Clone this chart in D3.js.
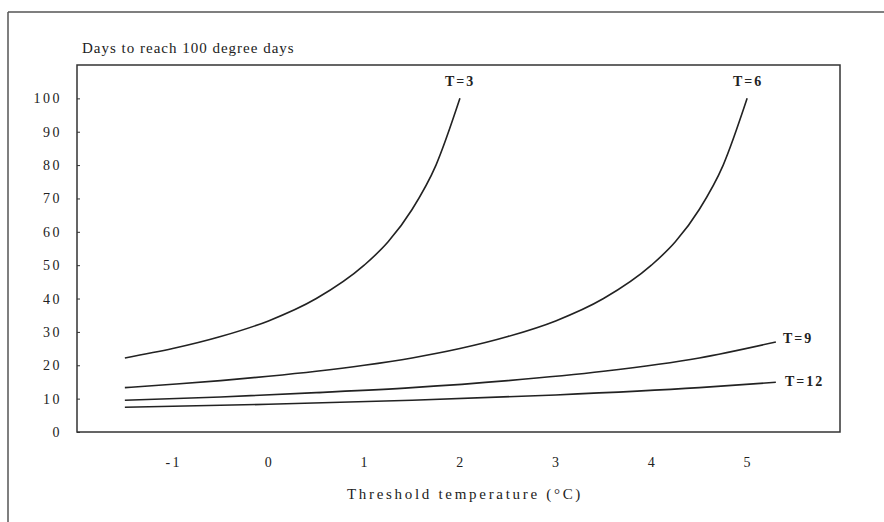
<!DOCTYPE html>
<html lang="en">
<head>
  <meta charset="UTF-8" />
  <title>Days to reach 100 degree days</title>
  <script src="https://d3js.org/d3.v7.min.js"></script>
  <style>
    body { margin: 0; padding: 0; background: #fff; }
    svg { display: block; font-family: "Liberation Serif", "DejaVu Serif", serif; }
    .frame { stroke: #555; stroke-width: 1.5; fill: none; }
    .plot-box { stroke: #333; stroke-width: 1.5; fill: none; }
    .curve { fill: none; stroke: #222; stroke-width: 1.6; }
    .tick-label { font-size: 14px; fill: #222; letter-spacing: 2.5px; }
    .curve-label { font-size: 14px; fill: #222; font-weight: bold; letter-spacing: 2px; }
  </style>
</head>
<body>
  <svg width="884" height="522"></svg>
  <script>
    // threshold temperatures (°C) and days
    const xT3 = [-1.5, -1, -0.5, 0, 0.5, 1, 1.25, 1.5, 1.75, 2];
    const yT3 = [22.2, 25, 28.6, 33.3, 40, 50, 57, 66.7, 80, 100];

    const xT6 = [-1.5, -1, -0.5, 0, 0.5, 1, 1.5, 2, 2.5, 3, 3.5, 4, 4.25, 4.5, 4.75, 5];
    const yT6 = [13.3, 14.3, 15.4, 16.7, 18.2, 20, 22.2, 25, 28.6, 33.3, 40, 50, 57, 66.7, 80, 100];

    const xT9 = [-1.5, -0.5, 0.5, 1.5, 2.5, 3.5, 4.5, 5.3];
    const yT9 = [9.5, 10.5, 11.8, 13.3, 15.4, 18.2, 22.2, 27];

    const xT12 = [-1.5, 0, 1.5, 3, 4.5, 5.3];
    const yT12 = [7.4, 8.3, 9.5, 11.1, 13.3, 14.9];

    const seriesNames = ["T=3", "T=6", "T=9", "T=12"];
    const yTicks = [0, 10, 20, 30, 40, 50, 60, 70, 80, 90, 100];
    const xTicks = [-1, 0, 1, 2, 3, 4, 5];

    const svg = d3.select("svg");

    const plot = { left: 77, right: 840, top: 65, bottom: 432 };

    const x = d3.scaleLinear().domain([-2, 5.97]).range([plot.left, plot.right]);
    const y = d3.scaleLinear().domain([0, 110]).range([plot.bottom, plot.top]);

    // outer frame (only top and left edges show)
    svg.append("line").attr("class", "frame")
      .attr("x1", 8).attr("y1", 12).attr("x2", 884).attr("y2", 12);
    svg.append("line").attr("class", "frame")
      .attr("x1", 8).attr("y1", 12).attr("x2", 8).attr("y2", 522);

    // plot box
    svg.append("rect").attr("class", "plot-box")
      .attr("x", plot.left).attr("y", plot.top)
      .attr("width", plot.right - plot.left)
      .attr("height", plot.bottom - plot.top);

    // y ticks, pointing inside
    const yAxis = d3.axisRight(y).tickValues(yTicks).tickSize(3).tickFormat("");
    svg.append("g")
      .attr("transform", `translate(${plot.left},0)`)
      .call(yAxis)
      .call(g => g.select(".domain").remove())
      .call(g => g.selectAll("line").attr("stroke", "#333"));

    svg.selectAll(".y-label")
      .data(yTicks)
      .enter().append("text")
      .attr("class", "tick-label")
      .attr("x", 62)
      .attr("y", d => y(d) + 5)
      .attr("text-anchor", "end")
      .text(d => d);

    svg.selectAll(".x-label")
      .data(xTicks)
      .enter().append("text")
      .attr("class", "tick-label")
      .attr("x", d => x(d) + 1)
      .attr("y", 467)
      .attr("text-anchor", "middle")
      .text(d => d);

    // titles
    svg.append("text")
      .attr("x", 82).attr("y", 53)
      .attr("font-size", "15px")
      .attr("letter-spacing", "1px")
      .attr("fill", "#222")
      .text("Days to reach 100 degree days");

    svg.append("text")
      .attr("x", 465).attr("y", 499)
      .attr("text-anchor", "middle")
      .attr("font-size", "15px")
      .attr("letter-spacing", "2.7px")
      .attr("fill", "#222")
      .text("Threshold temperature (°C)");

    // curves
    const series = [
      { name: seriesNames[0], xs: xT3, ys: yT3, lx: 445, ly: 86 },
      { name: seriesNames[1], xs: xT6, ys: yT6, lx: 733, ly: 86 },
      { name: seriesNames[2], xs: xT9, ys: yT9, lx: 783, ly: 343 },
      { name: seriesNames[3], xs: xT12, ys: yT12, lx: 785, ly: 386 }
    ];

    const line = d3.line()
      .x(d => x(d[0]))
      .y(d => y(d[1]))
      .curve(d3.curveMonotoneX);

    svg.selectAll(".curve")
      .data(series)
      .enter().append("path")
      .attr("class", "curve")
      .attr("d", s => line(s.xs.map((v, i) => [v, s.ys[i]])));

    svg.selectAll(".curve-label")
      .data(series)
      .enter().append("text")
      .attr("class", "curve-label")
      .attr("x", s => s.lx)
      .attr("y", s => s.ly)
      .text(s => s.name);
  </script>
</body>
</html>
